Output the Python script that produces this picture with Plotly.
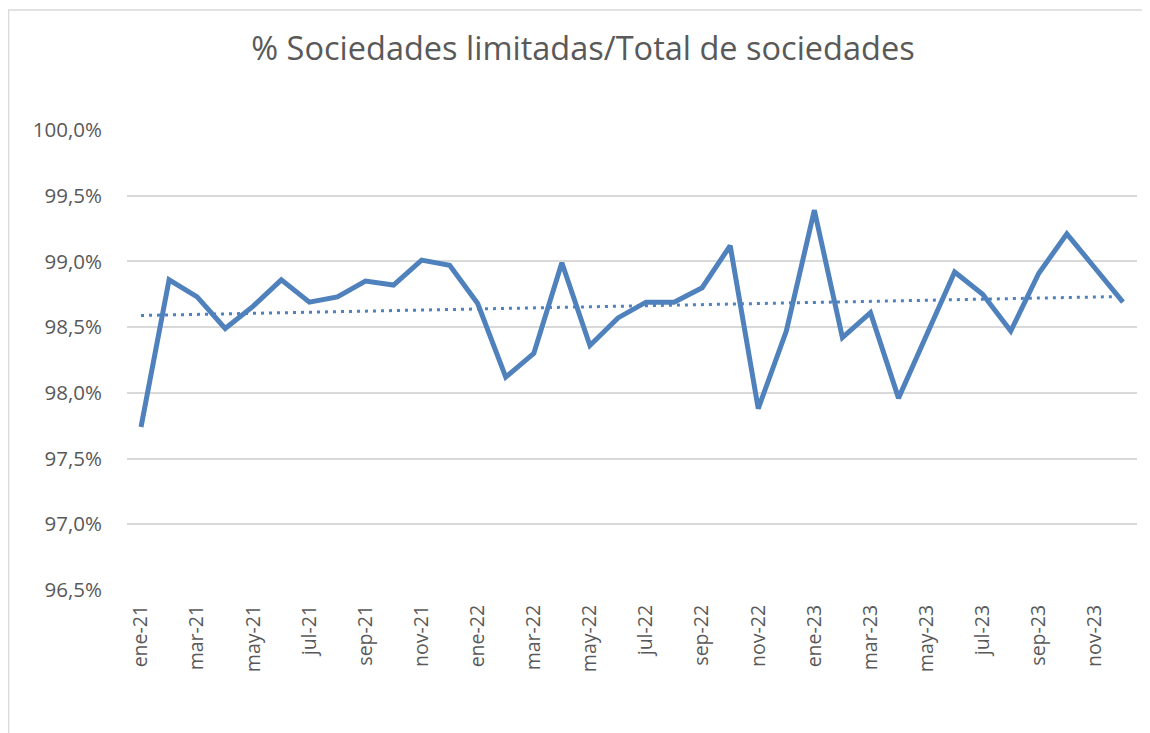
import numpy as np
import plotly.graph_objects as go

meses = ["ene-21", "feb-21", "mar-21", "abr-21", "may-21", "jun-21", "jul-21", "ago-21",
         "sep-21", "oct-21", "nov-21", "dic-21",
         "ene-22", "feb-22", "mar-22", "abr-22", "may-22", "jun-22", "jul-22", "ago-22",
         "sep-22", "oct-22", "nov-22", "dic-22",
         "ene-23", "feb-23", "mar-23", "abr-23", "may-23", "jun-23", "jul-23", "ago-23",
         "sep-23", "oct-23", "nov-23", "dic-23"]

pct_limitadas = [97.74, 98.86, 98.73, 98.49, 98.66, 98.86, 98.69, 98.73,
                 98.85, 98.82, 99.01, 98.97,
                 98.68, 98.12, 98.30, 98.99, 98.36, 98.57, 98.69, 98.69,
                 98.80, 99.12, 97.88, 98.47,
                 99.39, 98.42, 98.61, 97.96, 98.44, 98.92, 98.75, 98.47,
                 98.91, 99.21, 98.95, 98.69]

y_ticks = [96.5, 97.0, 97.5, 98.0, 98.5, 99.0, 99.5, 100.0]
y_etiquetas = ["96,5%", "97,0%", "97,5%", "98,0%", "98,5%", "99,0%", "99,5%", "100,0%"]

# linea de tendencia (lineal) sobre la serie
idx = np.arange(len(pct_limitadas))
pend, orig = np.polyfit(idx, pct_limitadas, 1)
tendencia = pend * idx + orig

azul = "#4F81BD"
gris = "#595959"

fig = go.Figure()

fig.add_trace(go.Scatter(x=meses, y=pct_limitadas, mode="lines",
                         line=dict(color=azul, width=5), name="% SL"))
fig.add_trace(go.Scatter(x=meses, y=tendencia, mode="lines",
                         line=dict(color=azul, width=3, dash="3px,5px"), name="Lineal"))

fig.update_layout(
    width=1150, height=733,
    margin=dict(l=119, r=21, t=122, b=151),
    paper_bgcolor="white", plot_bgcolor="white",
    showlegend=False,
    font=dict(family="Open Sans", color=gris, size=19.5),
    title=dict(text="% Sociedades limitadas/Total de sociedades",
               x=0.5, xanchor="center", y=0.945, yanchor="middle",
               font=dict(size=32.5, color=gris)),
)

fig.update_xaxes(type="category", range=[-0.5, 35.5],
                 tickvals=meses[::2], ticktext=meses[::2],
                 tickangle=-90, showgrid=False, showline=False,
                 ticks="", ticklabelstandoff=10, zeroline=False)
fig.update_yaxes(range=[96.5, 100.0], tickvals=y_ticks, ticktext=y_etiquetas,
                 tickfont=dict(size=20.5),
                 showgrid=True, gridcolor="#D9D9D9", gridwidth=1.5,
                 showline=False, zeroline=False, ticks="",
                 ticklabelstandoff=24)

# borde del area del grafico
fig.add_shape(type="rect", xref="paper", yref="paper",
              x0=-118.5 / 1010, x1=1.2, y0=-0.5, y1=1 + 120 / 460,
              line=dict(color="#D9D9D9", width=1.5), layer="below")

fig.write_html("out.html")
